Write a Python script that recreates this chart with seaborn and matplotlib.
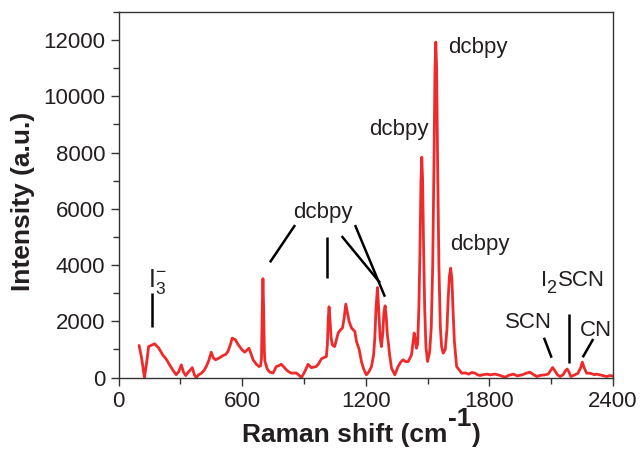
import matplotlib
matplotlib.use("Agg")
import matplotlib.pyplot as plt
from matplotlib.ticker import MultipleLocator
import seaborn as sns
import pandas as pd

# ---------------- data ----------------
raman_shift = [100, 112, 126, 138, 146, 160, 175, 195, 215, 232, 248, 265, 280, 292, 305, 315,
               326, 340, 358, 368, 377, 390, 402, 415, 426, 438, 450, 460, 471, 490, 507, 520,
               531, 542, 552, 568, 578, 588, 600, 612, 624, 633, 643, 653, 668, 682, 690, 694,
               698, 701, 704, 708, 711, 722, 734, 750, 766, 778, 790, 802, 815, 827, 839, 863,
               876, 888, 896, 904, 920, 936, 960, 972, 985, 1000, 1009, 1014, 1018, 1022, 1027,
               1032, 1038, 1049, 1058, 1066, 1078, 1087, 1095, 1103, 1111, 1119, 1131, 1147,
               1155, 1168, 1179, 1190, 1203, 1215, 1228, 1238, 1244, 1250, 1257, 1263, 1270,
               1276, 1283, 1288, 1294, 1300, 1305, 1309, 1316, 1325, 1341, 1357, 1370, 1381,
               1395, 1406, 1415, 1422, 1430, 1435, 1440, 1446, 1452, 1458, 1463, 1468, 1472,
               1476, 1481, 1486, 1492, 1500, 1510, 1518, 1525, 1531, 1536, 1540, 1544, 1549,
               1555, 1562, 1568, 1576, 1586, 1594, 1600, 1606, 1612, 1618, 1623, 1630, 1641,
               1657, 1665, 1685, 1700, 1715, 1730, 1742, 1754, 1770, 1790, 1803, 1827, 1850,
               1876, 1895, 1916, 1935, 1957, 1978, 1997, 2015, 2030, 2050, 2070, 2085, 2097,
               2107, 2117, 2130, 2143, 2158, 2170, 2178, 2186, 2195, 2210, 2230, 2243, 2251,
               2260, 2272, 2290, 2310, 2321, 2345, 2370, 2385, 2400]
intensity = [1140, 700, 0, 600, 1100, 1150, 1200, 1050, 800, 650, 450, 250, 100, 200, 450, 200,
             70, 200, 350, 100, 0, 100, 150, 250, 390, 600, 900, 700, 630, 700, 780, 820,
             925, 1150, 1400, 1340, 1200, 1100, 980, 900, 980, 1040, 850, 630, 480, 390, 420, 700,
             2600, 3515, 2600, 900, 570, 300, 190, 160, 390, 420, 470, 380, 270, 200, 155, 160,
             80, 0, 100, 210, 470, 350, 390, 500, 665, 720, 750, 1200, 2100, 2515, 2000,
             1400, 1160, 1100, 1350, 1580, 1700, 1760, 2100, 2610, 2300, 2000, 1760, 1640,
             1280, 1000, 570, 300, 95, 200, 390, 800, 1400, 2500, 3200, 2400, 1400,
             1100, 1600, 2300, 2550, 2100, 1500, 1280, 800, 330, 95, 390, 550, 630,
             560, 570, 700, 800, 1300, 1580, 1400, 1040, 1200, 2500, 4500, 7000, 7835,
             7000, 4500, 2500, 1100, 570, 900, 1800, 4000, 7500, 11000, 11930, 11000, 7500,
             4000, 1800, 1100, 865, 1000, 1700, 2800, 3600, 3890, 3500, 2500, 1300, 390,
             240, 155, 160, 120, 180, 155, 100, 70, 100, 120, 95, 120, 80,
             10, 80, 120, 60, 90, 150, 190, 100, 35, 80, 95, 120, 250,
             355, 250, 100, 35, 100, 250, 300, 200, 35, 80, 150, 350, 545,
             350, 155, 150, 100, 120, 80, 35, 70, 50]

x_ticks = [0, 600, 1200, 1800, 2400]
y_ticks = [0, 2000, 4000, 6000, 8000, 10000, 12000]

# annotation labels: x centre and baseline y
dcbpy_labels_x = [1745, 1359, 1756, 994]
dcbpy_labels_y = [11549, 8622, 4533, 5660]
# annotation leader lines: ((x0, y0), (x1, y1))
leader_lines = [((735, 4096), (857, 5422)),
                ((1013, 3527), (1013, 4985)),
                ((1269, 3371), (1083, 5031)),
                ((1293, 2873), (1148, 5422)),
                ((164, 1784), (164, 3015)),
                ((2102, 704), (2065, 1415)),
                ((2186, 526), (2186, 2258)),
                ((2253, 718), (2304, 1369))]

df = pd.DataFrame({"Raman shift": raman_shift, "Intensity": intensity})

# ---------------- style ----------------
sns.set_theme(style="ticks")
plt.rcParams["font.family"] = ["Liberation Sans", "DejaVu Sans"]
plt.rcParams["mathtext.fontset"] = "custom"
plt.rcParams["mathtext.rm"] = "Liberation Sans"
plt.rcParams["mathtext.it"] = "Liberation Sans:italic"
plt.rcParams["mathtext.bf"] = "Liberation Sans:bold"
TXT = "#231f20"
RED = "#ee2a2a"

fig = plt.figure(figsize=(6.4, 4.51), dpi=100)
ax = fig.add_axes([118.5 / 640, 1 - 377.5 / 451, 494.5 / 640, 365.5 / 451])

sns.lineplot(data=df, x="Raman shift", y="Intensity", color=RED, linewidth=2.0, ax=ax)

ax.set_xlim(0, 2400)
ax.set_ylim(0, 13000)
ax.set_xticks(x_ticks)
ax.set_yticks(y_ticks)
ax.xaxis.set_minor_locator(MultipleLocator(300))
ax.yaxis.set_minor_locator(MultipleLocator(1000))
ax.tick_params(which="major", direction="out", length=6, width=1.0, color="#333333",
               labelsize=16, labelcolor=TXT, pad=3.5, top=False, right=False)
ax.tick_params(which="minor", direction="out", length=4, width=1.0, color="#333333",
               top=False, right=False)
for s in ax.spines.values():
    s.set_color("#333333")
    s.set_linewidth(1.0)

# y label
ax.set_ylabel("Intensity (a.u.)", fontsize=19, fontweight="bold", color=TXT)
ax.yaxis.set_label_coords((35.5 - 118.5) / 494.5, (377.5 - 201.5) / 365.5)
ax.set_xlabel("")

# x label in pieces (full-size superscript as in the reference)
fig.canvas.draw()
r = fig.canvas.get_renderer()
t1 = fig.text(241.5 / 640, 1 - 442.3 / 451, "Raman shift (cm", fontsize=19,
              fontweight="bold", color=TXT, ha="left", va="baseline")
bb = t1.get_window_extent(r)
t2 = fig.text((bb.x1 + 1) / 640, 1 - 425.7 / 451, "-1", fontsize=19,
              fontweight="bold", color=TXT, ha="left", va="baseline")
bb2 = t2.get_window_extent(r)
fig.text((bb2.x1 + 1) / 640, 1 - 442.3 / 451, ")", fontsize=19,
         fontweight="bold", color=TXT, ha="left", va="baseline")

# annotations
for xx, yy in zip(dcbpy_labels_x, dcbpy_labels_y):
    ax.text(xx, yy, "dcbpy", fontsize=16, color=TXT, ha="center", va="baseline")
for (x0, y0), (x1, y1) in leader_lines:
    ax.plot([x0, x1], [y0, y1], color="black", linewidth=1.8, solid_capstyle="butt")

# I3-
ax.text(143, 3228, r"$\mathregular{I_{3}^{-}}$", fontsize=18, color=TXT,
        ha="left", va="baseline")
# I2SCN
ax.text(2050, 3264, "I", fontsize=16, color=TXT, ha="left", va="baseline")
ax.text(2075, 2994, "2", fontsize=13, color=TXT, ha="left", va="baseline")
ax.text(2135, 3264, "SCN", fontsize=16, color=TXT, ha="left", va="baseline")
ax.text(1990, 1749, "SCN", fontsize=16, color=TXT, ha="center", va="baseline")
ax.text(2318, 1486, "CN", fontsize=16, color=TXT, ha="center", va="baseline")

fig.savefig("out.png", dpi=100)
